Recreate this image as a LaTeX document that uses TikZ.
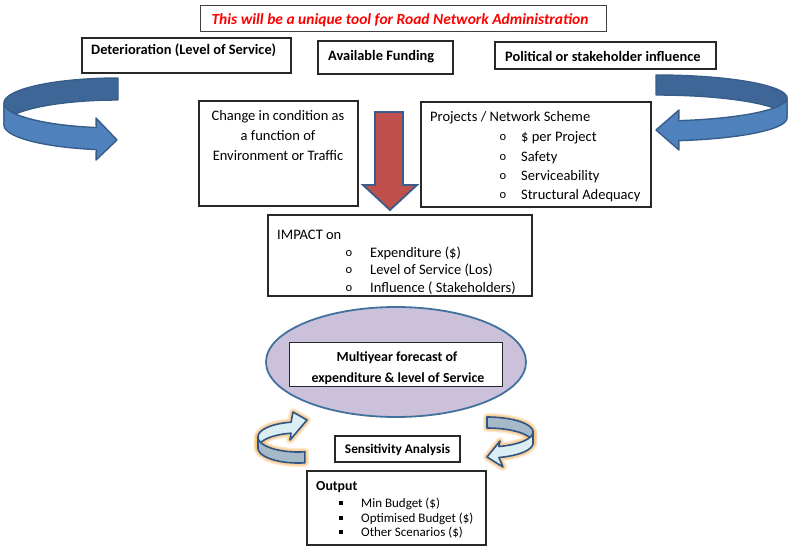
\documentclass[tikz,border=0pt]{standalone}
\usepackage{fontspec}
\setmainfont{Carlito}
\usetikzlibrary{shapes.geometric}
\definecolor{titlered}{RGB}{255,0,0}
\definecolor{boxline}{RGB}{40,40,40}
\definecolor{ribbonfront}{RGB}{79,129,189}
\definecolor{ribbonback}{RGB}{62,102,150}
\definecolor{ribbonedge}{RGB}{56,93,138}
\definecolor{arrowred}{RGB}{192,80,77}
\definecolor{lavender}{RGB}{204,193,218}
\definecolor{ovaledge}{RGB}{65,113,156}
\definecolor{paleblue}{RGB}{219,238,244}
\definecolor{slategrey}{RGB}{166,185,200}
\definecolor{smalledge}{RGB}{47,85,132}
\definecolor{glowc}{RGB}{247,190,120}

% ribbon outlines of the two small loop arrows
\newcommand\loopLback{plot[domain=180:100,samples=30,variable=\t] ({298+40*cos(\t)},{437-15*sin(\t)})
  -- (293,412) -- (307,420) -- (290,440)
  -- plot[domain=100:180,samples=30,variable=\t] ({298+40*cos(\t)},{448-15*sin(\t)}) -- cycle}
\newcommand\loopLfront{plot[domain=180:280,samples=30,variable=\t] ({298+40*cos(\t)},{437-15*sin(\t)})
  -- plot[domain=280:180,samples=30,variable=\t] ({298+40*cos(\t)},{448-15*sin(\t)}) -- cycle}
\newcommand\loopRback{plot[domain=90:0,samples=30,variable=\t] ({487+46*cos(\t)},{432-15*sin(\t)})
  -- plot[domain=0:90,samples=30,variable=\t] ({487+46*cos(\t)},{443-15*sin(\t)}) -- cycle}
\newcommand\loopRfront{plot[domain=0:-75,samples=30,variable=\t] ({487+46*cos(\t)},{432-15*sin(\t)})
  -- (500,441) -- (487,457) -- (503,467)
  -- plot[domain=-75:0,samples=30,variable=\t] ({487+46*cos(\t)},{443-15*sin(\t)}) -- cycle}

\begin{document}
\begin{tikzpicture}[x=1pt,y=-1pt,
  box/.style={draw=boxline, line width=1.1pt, fill=white, anchor=north west,
    inner sep=0pt, outer sep=0pt},
  txt/.style={anchor=base west, inner sep=0pt, font=\fontsize{14.5}{17}\selectfont},
  ctxt/.style={txt, anchor=base},
  head/.style={txt, font=\fontsize{14.4}{17}\selectfont\bfseries},
  small/.style={txt, font=\fontsize{13}{15}\selectfont},
  ring/.style={line width=1.4pt, draw=ribbonedge, line join=round},
  loopedge/.style={line width=1.6pt, draw=smalledge, line join=round},
  glowwide/.style={draw=glowc, line width=8pt, opacity=0.35, line join=round},
  glownarrow/.style={draw=glowc, line width=5pt, opacity=0.6, line join=round},
  circbullet/.style={anchor=base, inner sep=0pt, font=\fontsize{12.5}{14}\selectfont},
]
\useasboundingbox (0,0) rectangle (790,550);

% ---------- headline and top boxes ----------
\node[box, draw=black!75, line width=0.9pt, minimum width=406pt, minimum height=26pt] (titlebox) at (200,5) {};
\node[ctxt, font=\fontsize{15.5}{18}\selectfont\bfseries\itshape, text=titlered] (title) at (400,24)
  {This will be a unique tool for Road Network Administration};

\node[box, minimum width=209pt, minimum height=35pt] (detbox) at (82,38) {};
\node[head] (det) at (91,54) {Deterioration (Level of Service)};

\node[box, minimum width=135pt, minimum height=33pt] (fundbox) at (318,41) {};
\node[head] (fund) at (328,60) {Available Funding};

\node[box, minimum width=221pt, minimum height=27pt] (polbox) at (495,42) {};
\node[head] (pol) at (505,61) {Political or stakeholder influence};

% ---------- big blue loop arrows ----------
\filldraw[ring, fill=ribbonback]
  plot[domain=90:180,samples=40,variable=\t] ({118+114*cos(\t)},{103-25*sin(\t)})
  -- plot[domain=180:90,samples=40,variable=\t] ({118+114*cos(\t)},{125-25*sin(\t)}) -- cycle;
\filldraw[ring, fill=ribbonfront]
  plot[domain=180:259,samples=40,variable=\t] ({118+114*cos(\t)},{103-25*sin(\t)})
  -- (96,118) -- (117,140) -- (96,160)
  -- plot[domain=259:180,samples=40,variable=\t] ({118+114*cos(\t)},{125-25*sin(\t)}) -- cycle;

\filldraw[ring, fill=ribbonback]
  plot[domain=90:0,samples=40,variable=\t] ({656+131*cos(\t)},{98-23*sin(\t)})
  -- plot[domain=0:90,samples=40,variable=\t] ({656+131*cos(\t)},{118-23*sin(\t)}) -- cycle;
\filldraw[ring, fill=ribbonfront]
  plot[domain=0:-80,samples=40,variable=\t] ({656+131*cos(\t)},{98-23*sin(\t)})
  -- (679,110) -- (656,130) -- (679,150)
  -- plot[domain=-80:0,samples=40,variable=\t] ({656+131*cos(\t)},{118-23*sin(\t)}) -- cycle;

% ---------- condition and projects boxes ----------
\node[box, minimum width=159pt, minimum height=105pt] (condbox) at (199,101) {};
\node[ctxt] (cond1) at (278,120) {Change in condition as};
\node[ctxt] (cond2) at (278,140) {a function of};
\node[ctxt] (cond3) at (278,160) {Environment or Traffic};

\node[box, minimum width=230pt, minimum height=105pt] (projbox) at (421,102) {};
\node[txt] (proj) at (430,121) {Projects / Network Scheme};
\node[circbullet] (pb1) at (503,140) {o};
\node[circbullet] (pb2) at (503,160) {o};
\node[circbullet] (pb3) at (503,179) {o};
\node[circbullet] (pb4) at (503,198) {o};
\node[txt] (pi1) at (521,141) {\$ per Project};
\node[txt] (pi2) at (521,161) {Safety};
\node[txt] (pi3) at (521,180) {Serviceability};
\node[txt] (pi4) at (521,199) {Structural Adequacy};

% ---------- red down arrow ----------
\filldraw[fill=arrowred, draw=ribbonedge, line width=1.8pt, line join=miter]
  (375,112) -- (403,112) -- (403,185) -- (417,185) -- (390,210) -- (363,185) -- (375,185) -- cycle;

% ---------- impact box ----------
\node[box, minimum width=264pt, minimum height=81pt] (impbox) at (268,215) {};
\node[txt] (imp) at (277,239) {IMPACT on};
\node[circbullet] (ib1) at (349,256) {o};
\node[circbullet] (ib2) at (349,273) {o};
\node[circbullet] (ib3) at (349,291) {o};
\node[txt] (ii1) at (370,257) {Expenditure (\$)};
\node[txt] (ii2) at (370,274) {Level of Service (Los)};
\node[txt] (ii3) at (370,292) {Influence ( Stakeholders)};

% ---------- forecast oval ----------
\node[ellipse, draw=ovaledge, line width=1.8pt, fill=lavender,
  minimum width=260pt, minimum height=110pt, inner sep=0pt] (oval) at (396,362) {};
\node[box, line width=1pt, minimum width=213pt, minimum height=44pt] (fcbox) at (289,342) {};
\node[head, anchor=base, font=\fontsize{13.9}{16}\selectfont\bfseries] (fc1) at (397,361) {Multiyear forecast of};
\node[head, anchor=base, font=\fontsize{13.9}{16}\selectfont\bfseries] (fc2) at (398,382) {expenditure \& level of Service};

% ---------- small loop arrows with glow ----------
\path[glowwide] \loopLback;
\path[glowwide] \loopLfront;
\path[glowwide] \loopRback;
\path[glowwide] \loopRfront;
\path[glownarrow] \loopLback;
\path[glownarrow] \loopLfront;
\path[glownarrow] \loopRback;
\path[glownarrow] \loopRfront;
\filldraw[loopedge, fill=paleblue] \loopLback;
\filldraw[loopedge, fill=slategrey] \loopLfront;
\filldraw[loopedge, fill=slategrey] \loopRback;
\filldraw[loopedge, fill=paleblue] \loopRfront;

% ---------- sensitivity and output ----------
\node[box, minimum width=125pt, minimum height=26pt] (sensbox) at (335,436) {};
\node[head, anchor=base, font=\fontsize{13.3}{15}\selectfont\bfseries] (sens) at (397.5,453) {Sensitivity Analysis};

\node[box, minimum width=179pt, minimum height=74pt] (outbox) at (307,471) {};
\node[txt, font=\fontsize{13.8}{16}\selectfont\bfseries] (outh) at (316,490) {Output};
\node[anchor=center, inner sep=0pt] (ob1) at (340.5,502.5) {\rule{4pt}{4pt}};
\node[anchor=center, inner sep=0pt] (ob2) at (340.5,518) {\rule{4pt}{4pt}};
\node[anchor=center, inner sep=0pt] (ob3) at (340.5,532) {\rule{4pt}{4pt}};
\node[small] (oi1) at (361,507) {Min Budget (\$)};
\node[small] (oi2) at (361,522.5) {Optimised Budget (\$)};
\node[small] (oi3) at (361,536.5) {Other Scenarios (\$)};
\end{tikzpicture}
\end{document}
